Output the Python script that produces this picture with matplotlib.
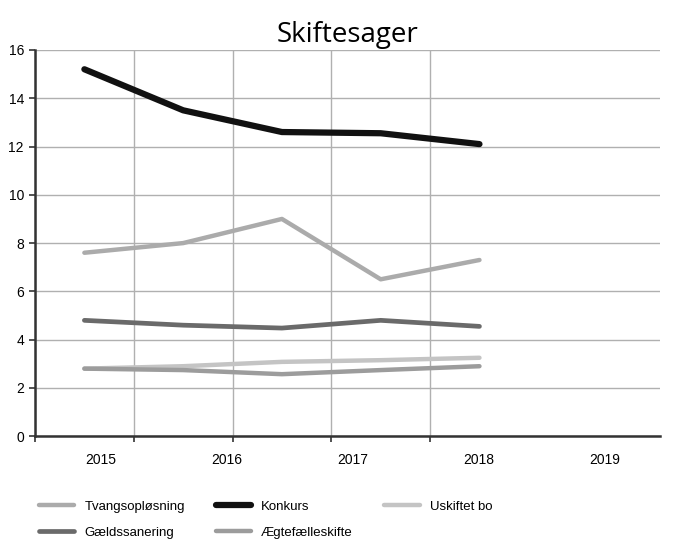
import matplotlib.pyplot as plt
import numpy as np

years = ["2015", "2016", "2017", "2018", "2019"]
tvangs = [7.6, 8.0, 9.0, 6.5, 7.3]
konkurs = [15.2, 13.5, 12.6, 12.55, 12.1]
uskiftet = [2.8, 2.9, 3.08, 3.15, 3.25]
gaelds = [4.8, 4.6, 4.48, 4.8, 4.55]
aegte = [2.8, 2.74, 2.57, 2.74, 2.9]

plt.rcParams['font.family'] = ['Liberation Sans', 'DejaVu Sans']

fig = plt.figure(figsize=(6.73, 5.55), dpi=100)
ax = fig.add_axes([0.052, 0.214, 0.929, 0.696])

x = np.arange(len(years))
l_tv, = ax.plot(x, tvangs, color="#ababab", lw=3.2, label="Tvangsopløsning", solid_capstyle="round")
l_ko, = ax.plot(x, konkurs, color="#111111", lw=4.5, label="Konkurs", solid_capstyle="round")
l_us, = ax.plot(x, uskiftet, color="#c4c4c4", lw=3.2, label="Uskiftet bo", solid_capstyle="round")
l_ga, = ax.plot(x, gaelds, color="#6a6a6a", lw=3.4, label="Gældssanering", solid_capstyle="round")
l_ae, = ax.plot(x, aegte, color="#9c9c9c", lw=3.2, label="Ægtefælleskifte", solid_capstyle="round")

ax.set_xlim(-0.5, 5.83)
ax.set_ylim(0, 16)
ax.set_yticks(range(0, 17, 2))

# category boundaries as grid, labels spread out as in the scan
ax.set_xticks(np.arange(-0.5, 4.0, 1.0), minor=True)
ax.set_xticks(np.linspace(0.17, 5.27, len(years)))
ax.set_xticklabels(years)
ax.tick_params(axis="x", which="major", length=0, pad=12, labelsize=10)
ax.tick_params(axis="x", which="minor", length=4, width=1.2, color="#333333")
ax.tick_params(axis="y", length=4, width=1.2, color="#333333", labelsize=10, pad=4)

ax.grid(axis="y", color="#b0b0b0", lw=1.0)
ax.grid(axis="x", which="minor", color="#b0b0b0", lw=1.0)
ax.set_axisbelow(True)

for s in ("top", "right"):
    ax.spines[s].set_visible(False)
ax.spines["left"].set_color("#333333")
ax.spines["left"].set_linewidth(1.8)
ax.spines["bottom"].set_color("#333333")
ax.spines["bottom"].set_linewidth(1.8)

ax.set_title("Skiftesager", fontsize=20, family=["Open Sans", "DejaVu Sans"], pad=6)

fig.legend(handles=[l_tv, l_ga, l_ko, l_ae, l_us], ncol=3, loc="lower left",
           bbox_to_anchor=(0.04, 0.008), frameon=False, fontsize=9.5,
           handlelength=2.7, handletextpad=0.75, columnspacing=2.35, labelspacing=1.05)

fig.savefig("out.png", dpi=100)
